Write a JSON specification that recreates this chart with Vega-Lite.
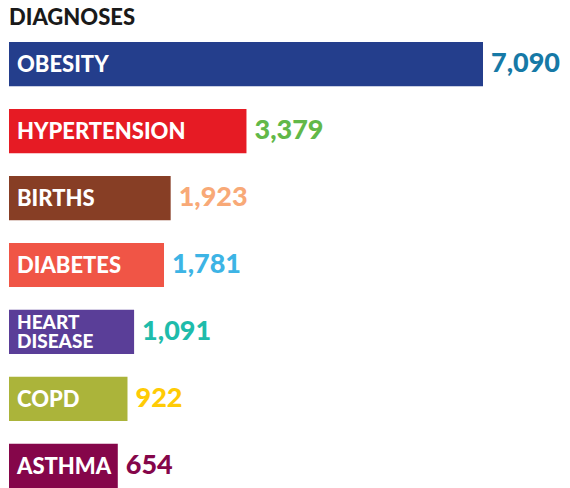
{
  "$schema": "https://vega.github.io/schema/vega-lite/v6.json",
  "width": 474,
  "height": 446,
  "autosize": "none",
  "padding": {"left": 9, "top": 42, "right": 87, "bottom": 0},
  "background": "white",
  "title": {"text": "DIAGNOSES", "anchor": "start", "frame": "group", "font": "Lato", "fontSize": 22, "fontWeight": 900, "color": "#1a1a1a", "offset": 12},
  "data": {"values": [
    {"name": "OBESITY", "value": 7090},
    {"name": "HYPERTENSION", "value": 3379},
    {"name": "BIRTHS", "value": 1923},
    {"name": "DIABETES", "value": 1781},
    {"name": "HEART DISEASE", "value": 1091},
    {"name": "COPD", "value": 922},
    {"name": "ASTHMA", "value": 654}
  ]},
  "encoding": {
    "y": {"field": "name", "type": "nominal", "sort": null, "axis": null,
          "scale": {"paddingInner": 0.34, "paddingOuter": 0}}
  },
  "layer": [
    {
      "mark": {"type": "bar"},
      "encoding": {
        "x": {"field": "value", "type": "quantitative", "axis": null, "scale": {"type": "pow", "exponent": 1.3, "domain": [-2360, 7090], "nice": false, "zero": false}},
        "x2": {"datum": -2360},
        "color": {"field": "name", "type": "nominal", "legend": null,
                  "scale": {"domain": ["OBESITY","HYPERTENSION","BIRTHS","DIABETES","HEART DISEASE","COPD","ASTHMA"],
                            "range": ["#243e8c","#e61b24","#873e25","#f05546","#5a3e98","#abb43a","#85064a"]}}
      }
    },
    {
      "transform": [{"filter": "datum.name !== 'HEART DISEASE'"}],
      "mark": {"type": "text", "align": "left", "baseline": "middle", "dx": 8, "dy": 1, "font": "Lato", "fontWeight": 900, "fontSize": 22, "color": "white"},
      "encoding": {
        "x": {"datum": -2360},
        "text": {"field": "name"}
      }
    },
    {
      "transform": [{"filter": "datum.name === 'HEART DISEASE'"}],
      "mark": {"type": "text", "align": "left", "baseline": "middle", "dx": 8, "dy": -8.5, "font": "Lato", "fontWeight": 900, "fontSize": 19, "color": "white", "lineBreak": " ", "lineHeight": 19},
      "encoding": {
        "x": {"datum": -2360},
        "text": {"field": "name"}
      }
    },
    {
      "mark": {"type": "text", "align": "left", "baseline": "middle", "dx": 8, "font": "Lato", "fontWeight": 900, "fontSize": 27},
      "encoding": {
        "x": {"field": "value", "type": "quantitative"},
        "text": {"field": "value", "type": "quantitative", "format": ","},
        "color": {"field": "name", "type": "nominal", "legend": null,
                  "scale": {"domain": ["OBESITY","HYPERTENSION","BIRTHS","DIABETES","HEART DISEASE","COPD","ASTHMA"],
                            "range": ["#1679a6","#62b848","#f8a977","#3db4e5","#1ebcab","#ffcb05","#85064a"]}}
      }
    }
  ],
  "resolve": {"scale": {"color": "independent"}},
  "config": {"view": {"stroke": null}}
}
